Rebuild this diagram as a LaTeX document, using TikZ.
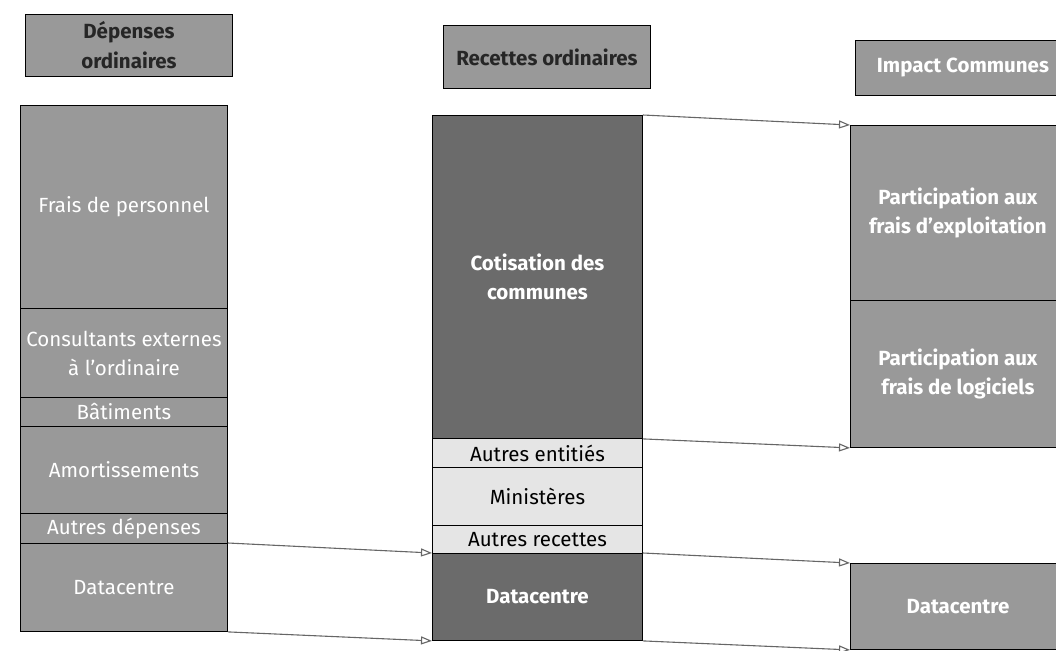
\documentclass[tikz,border=0pt]{standalone}
\usepackage{fontspec}
\setmainfont{Fira Sans}
\usetikzlibrary{arrows.meta, positioning}

\begin{document}
\begin{tikzpicture}[x=1pt,y=-1pt,
  bloc/.style={draw=black, line width=0.9pt, fill=black!40, text=white, inner sep=0pt, align=center, anchor=north west, font=\fontsize{20.5}{29}\selectfont},
  titre/.style={bloc, text=black!85, font=\fontsize{20.5}{30}\selectfont\bfseries},
  fonce/.style={bloc, fill=black!58, font=\fontsize{20.5}{29}\selectfont\bfseries},
  clair/.style={bloc, fill=black!10, text=black},
  fleche/.style={-{Triangle[open,length=11pt,width=8pt]}, draw=black!60, line width=1.1pt}]
\useasboundingbox (0,0) rectangle (1056,650);
\clip (0,0) rectangle (1056,650);

\node[titre, minimum width=207pt, minimum height=62pt] (hdep) at (25,14) {Dépenses\\ordinaires};
\node[titre, minimum width=207pt, minimum height=63pt] (hrec) at (443,25) {Recettes ordinaires};
\node[titre, text=white, minimum width=215pt, minimum height=55pt] (himp) at (855,40) {Impact Communes};

\node[bloc, minimum width=207pt, minimum height=203pt] (fp) at (20,105) {Frais de personnel};
\node[bloc, minimum width=207pt, minimum height=89pt] (ce) at (20,308) {Consultants externes\\à l'ordinaire};
\node[bloc, minimum width=207pt, minimum height=29pt] (bat) at (20,397) {Bâtiments};
\node[bloc, minimum width=207pt, minimum height=87pt] (amo) at (20,426) {Amortissements};
\node[bloc, minimum width=207pt, minimum height=30pt] (ad) at (20,513) {Autres dépenses};
\node[bloc, minimum width=207pt, minimum height=88pt] (dc1) at (20,543) {Datacentre};

\node[fonce, minimum width=210pt, minimum height=323pt] (cot) at (432,115) {Cotisation des\\communes};
\node[clair, minimum width=210pt, minimum height=29pt] (ae) at (432,438) {Autres entitiés};
\node[clair, minimum width=210pt, minimum height=58pt] (min) at (432,467) {Ministères};
\node[clair, minimum width=210pt, minimum height=28pt] (ar) at (432,525) {Autres recettes};
\node[fonce, minimum width=210pt, minimum height=87pt] (dc2) at (432,553) {Datacentre};

\node[bloc, font=\fontsize{20.5}{29}\selectfont\bfseries, minimum width=215pt, minimum height=175pt] (pe) at (850,125) {Participation aux\\frais d'exploitation};
\node[bloc, font=\fontsize{20.5}{29}\selectfont\bfseries, minimum width=215pt, minimum height=147pt] (pl) at (850,300) {Participation aux\\frais de logiciels};
\node[bloc, font=\fontsize{20.5}{29}\selectfont\bfseries, minimum width=215pt, minimum height=86pt] (dc3) at (850,563) {Datacentre};

\draw[fleche] (cot.north east) -- (pe.north west);
\draw[fleche] (cot.south east) -- (pl.south west);
\draw[fleche] (dc1.north east) -- (dc2.north west);
\draw[fleche] (dc1.south east) -- (dc2.south west);
\draw[fleche] (dc2.north east) -- (dc3.north west);
\draw[fleche] (dc2.south east) -- (dc3.south west);
\end{tikzpicture}
\end{document}
